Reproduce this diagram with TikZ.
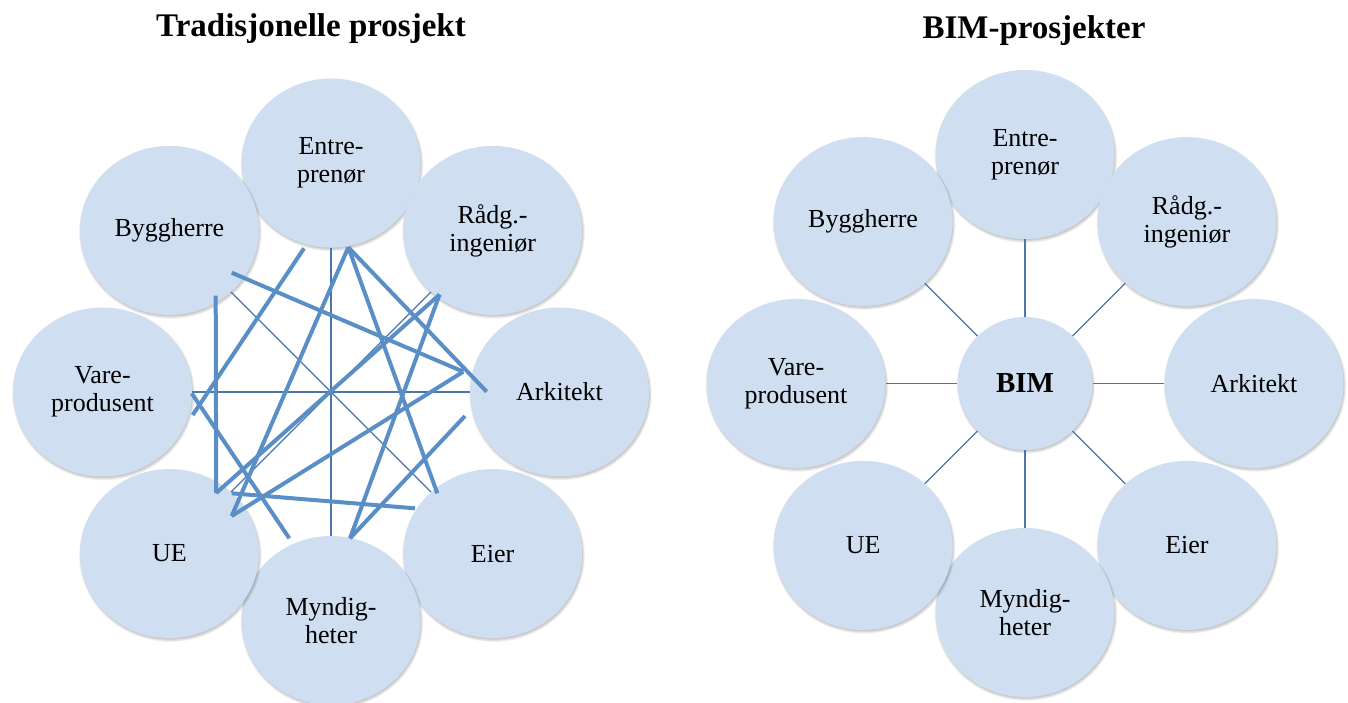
\documentclass[tikz,border=0pt]{standalone}
\usepackage{fontspec}
\setmainfont{Liberation Serif}
\usetikzlibrary{shapes.geometric,shadows,calc}
\definecolor{bubble}{RGB}{207,223,241}
\definecolor{linkblue}{RGB}{90,142,198}
\definecolor{spokeblue}{RGB}{74,118,172}
\newcommand\bubblefont{\fontsize{26}{28}\selectfont}
\newcommand\hubfont{\fontsize{29}{30}\selectfont\bfseries}
\newcommand\headfont{\fontsize{33}{36}\selectfont\bfseries}

\begin{document}
\begin{tikzpicture}[x=1pt,y=-1pt,
  party/.style={ellipse, fill=bubble, minimum width=179pt, minimum height=169pt,
    inner sep=0pt, align=center, font=\bubblefont, text=black,
    drop shadow={shadow xshift=1pt, shadow yshift=-2pt, shadow scale=1.02, opacity=0.05, fill=black},
    drop shadow={shadow xshift=1pt, shadow yshift=-2pt, shadow scale=1.01, opacity=0.07, fill=black},
    drop shadow={shadow xshift=0.8pt, shadow yshift=-1.5pt, opacity=0.10, fill=black}},
  hub/.style={party, minimum width=135pt, minimum height=133pt, font=\hubfont},
  tie/.style={draw=linkblue, line width=4pt},
  spoke/.style={draw=spokeblue, line width=1.2pt},
  heading/.style={font=\headfont, anchor=base, inner sep=0pt}]

\useasboundingbox (0,0) rectangle (1348,702);

% ---------------- left: every party talks to every other ----------------
\node[heading] (lhead) at (311,36.5) {Tradisjonelle prosjekt};

\node[party] (lent)  at (331,163)     {Entre-\\prenør};
\node[party] (lrad)  at (492.6,230.4) {Rådg.-\\ingeniør};
\node[party] (lark)  at (559.5,392)   {Arkitekt};
\node[party] (leier) at (492.6,553.6) {Eier};
\node[party] (lmyn)  at (331,620.5)   {Myndig-\\heter};
\node[party] (lue)   at (169.4,553.6) {UE};
\node[party] (lvare) at (102.5,392)   {Vare-\\produsent};
\node[party] (lbyg)  at (169.4,230.4) {Byggherre};

% thin links between opposite parties
\draw[spoke] (lent) -- (lmyn);
\draw[spoke] (lvare) -- (lark);
\draw[spoke] (lbyg) -- (leier);
\draw[spoke] (lrad) -- (lue);

% end points of the tangled links
\coordinate (ent-a) at ($(lent)+(-27,85.3)$);
\coordinate (ent-b) at ($(lent)+(17.3,84.3)$);
\coordinate (byg-a) at ($(lbyg)+(62.3,42.3)$);
\coordinate (byg-b) at ($(lbyg)+(46.3,65.3)$);
\coordinate (rad-a) at ($(lrad)+(-53,64.1)$);
\coordinate (ark-a) at ($(lark)+(-96.2,-20.3)$);
\coordinate (ark-b) at ($(lark)+(-94.5,24)$);
\coordinate (ark-c) at ($(lark)+(-72.8,-0.3)$);
\coordinate (eier-a) at ($(leier)+(-55.3,-60.3)$);
\coordinate (eier-b) at ($(leier)+(-77.6,-45.3)$);
\coordinate (myn-a) at ($(lmyn)+(19,-82.2)$);
\coordinate (myn-b) at ($(lmyn)+(-41.7,-82.2)$);
\coordinate (ue-a) at ($(lue)+(46.8,-60.6)$);
\coordinate (ue-b) at ($(lue)+(62.3,-37.6)$);
\coordinate (ue-c) at ($(lue)+(62.3,-60.3)$);
\coordinate (vare-a) at ($(lvare)+(90.2,23)$);
\coordinate (vare-b) at ($(lvare)+(89.2,1.3)$);

\draw[tie] (ent-a) -- (vare-a);
\draw[tie] (byg-a) -- (ark-a);
\draw[tie] (byg-b) -- (ue-a);
\draw[tie] (ue-a) -- (rad-a);
\draw[tie] (rad-a) -- (myn-a);
\draw[tie] (myn-a) -- (ark-b);
\draw[tie] (ent-b) -- (ue-b);
\draw[tie] (ent-b) -- (eier-a);
\draw[tie] (ent-b) -- (ark-c);
\draw[tie] (ue-b) -- (ark-a);
\draw[tie] (vare-b) -- (myn-b);
\draw[tie] (ue-c) -- (eier-b);

% ---------------- right: every party works through BIM ----------------
\node[heading] (rhead) at (1034,38.5) {BIM-prosjekter};

\node[party] (rent)  at (1025,154.5)    {Entre-\\prenør};
\node[party] (rrad)  at (1186.9,221.6)  {Rådg.-\\ingeniør};
\node[party] (rark)  at (1254,383.5)    {Arkitekt};
\node[party] (reier) at (1186.9,545.4)  {Eier};
\node[party] (rmyn)  at (1025,612.5)    {Myndig-\\heter};
\node[party] (rue)   at (863.1,545.4)   {UE};
\node[party] (rvare) at (796,383.5)     {Vare-\\produsent};
\node[party] (rbyg)  at (863.1,221.6)   {Byggherre};

\node[hub] (bim) at (1025,383.5) {BIM};

\foreach \p in {rent,rrad,rark,reier,rmyn,rue,rvare,rbyg}
  \draw[spoke] (bim) -- (\p);

\end{tikzpicture}
\end{document}
